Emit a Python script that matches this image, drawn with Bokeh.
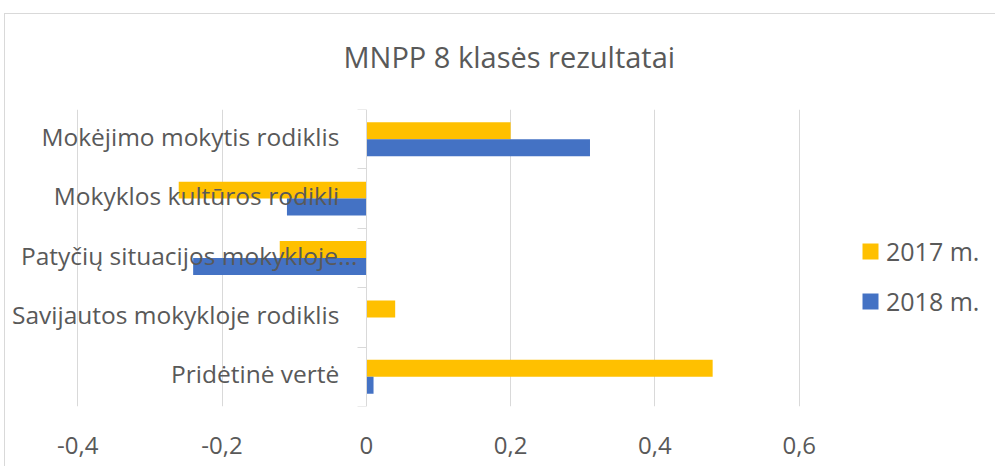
from bokeh.plotting import figure
from bokeh.models import (Range1d, FixedTicker, LinearAxis, Legend, LegendItem,
                          CustomJSTickFormatter, ColumnDataSource, InlineStyleSheet)
from bokeh.embed import file_html
from bokeh.resources import INLINE

# ---- data ----
categories = ["Mokėjimo mokytis rodiklis", "Mokyklos kultūros rodikli",
              "Patyčių situacijos mokykloje...", "Savijautos mokykloje rodiklis",
              "Pridėtinė vertė"]
v2017 = [0.20, -0.26, -0.12, 0.04, 0.48]
v2018 = [0.31, -0.11, -0.24, 0.00, 0.01]
series_names = ["2017 m.", "2018 m."]
x_ticks = [-0.4, -0.2, 0.0, 0.2, 0.4, 0.6]
title_text = "MNPP 8 klasės rezultatai"

# ---- styling ----
FONT = "Open Sans"
TXT = "#595959"
GRID = "#D9D9D9"
C2017 = "#FFC000"
C2018 = "#4472C4"

n = len(categories)
ypos = [n - 1 - i for i in range(n)]          # first category at top
bar_h = 0.285
off = 0.1425

src = ColumnDataSource(dict(cat=categories, y=ypos, v17=v2017, v18=v2018,
                            y17=[y + off for y in ypos], y18=[y - off for y in ypos]))

# the frame spans the full width so that labels and legend are not clipped;
# gridlines/ticks are restricted to the -0.4 .. 0.6 scale of the original
p = figure(width=995, height=466, output_backend="svg", toolbar_location=None,
           x_range=Range1d(-0.507, 0.872), y_range=Range1d(-0.5, n - 0.5),
           min_border_left=0, min_border_right=0, min_border_top=108, min_border_bottom=60,
           x_axis_location=None, y_axis_location=None)
p.outline_line_color = None
p.background_fill_color = "white"
p.border_fill_color = "white"

r17 = p.hbar(y="y17", left=0, right="v17", height=bar_h, source=src,
             fill_color=C2017, line_color=None)
r18 = p.hbar(y="y18", left=0, right="v18", height=bar_h, source=src,
             fill_color=C2018, line_color=None)

# title
p.title.text = title_text
p.title.align = "left"
p.title.offset = 343
p.title.text_font = FONT
p.title.text_font_size = "29px"
p.title.text_font_style = "normal"
p.title.text_color = TXT
p.title.standoff = 68

# x axis (labels only) + vertical gridlines
fmt = CustomJSTickFormatter(code="""
    if (Math.abs(tick) < 1e-9) return "0";
    return tick.toFixed(1).replace(".", ",");
""")
xax = LinearAxis(ticker=FixedTicker(ticks=x_ticks), formatter=fmt)
xax.axis_line_color = None
xax.major_tick_line_color = None
xax.minor_tick_line_color = None
xax.major_tick_out = 0
xax.major_tick_in = 0
xax.major_label_standoff = 30
xax.major_label_text_font = FONT
xax.major_label_text_font_size = "24px"
xax.major_label_text_color = TXT
p.add_layout(xax, "below")

p.xgrid.ticker = FixedTicker(ticks=[t for t in x_ticks if abs(t) > 1e-9])
p.xgrid.grid_line_color = GRID
p.xgrid.grid_line_width = 1
p.ygrid.grid_line_color = None

# category labels, right-aligned next to the value axis at x = 0
labels_by_y = [""] * n
for y, c in zip(ypos, categories):
    labels_by_y[y] = c
cat_fmt = CustomJSTickFormatter(args=dict(labels=labels_by_y),
                                code="return labels[Math.round(tick)] ?? '';")
LAB_DY = 0.05   # lift text slightly, as in the original
truncated = [y for y, c in zip(ypos, categories) if c.endswith("...")]
normal = [y for y in ypos if y not in truncated]
for ticks, standoff in ((normal, 27), (truncated, 9)):
    if not ticks:
        continue
    ax = LinearAxis(ticker=FixedTicker(ticks=[t + LAB_DY for t in ticks]), formatter=cat_fmt)
    ax.fixed_location = 0
    ax.axis_line_color = None
    ax.major_tick_line_color = None
    ax.minor_tick_line_color = None
    ax.major_tick_out = 0
    ax.major_tick_in = 0
    ax.major_label_standoff = standoff
    ax.major_label_text_font = FONT
    ax.major_label_text_font_size = "24.5px"
    ax.major_label_text_color = TXT
    p.add_layout(ax, "left")

# axis line at x = 0 with tick marks at category boundaries
bounds = [i - 0.5 for i in range(n + 1)]
tick_ax = LinearAxis(ticker=FixedTicker(ticks=bounds))
tick_ax.fixed_location = 0
tick_ax.axis_line_color = GRID
tick_ax.major_tick_line_color = GRID
tick_ax.major_tick_in = 0
tick_ax.major_tick_out = 9
tick_ax.minor_tick_line_color = None
tick_ax.major_label_text_font_size = "0px"
tick_ax.major_label_text_alpha = 0
p.add_layout(tick_ax, "left")

# legend (inside the full-width frame)
legend = Legend(items=[LegendItem(label=series_names[0], renderers=[r17]),
                       LegendItem(label=series_names[1], renderers=[r18])],
                location=(860, 88))
legend.border_line_color = None
legend.background_fill_alpha = 0
legend.padding = 0
legend.margin = 0
legend.glyph_width = 20
legend.glyph_height = 20
legend.label_height = 20
legend.spacing = 16
legend.label_standoff = 6
legend.label_text_font = FONT
legend.label_text_font_size = "25px"
legend.label_text_color = TXT
p.add_layout(legend, "center")

# outer chart border (partly off-page in the reference)
p.stylesheets = [InlineStyleSheet(css="""
:host::after {
  content: ""; position: absolute; left: 4px; top: 13px; right: 0; bottom: 0;
  border-top: 1.5px solid #D9D9D9; border-left: 1.5px solid #D9D9D9;
  pointer-events: none;
}
""")]

open("out.html", "w").write(file_html(p, INLINE))
